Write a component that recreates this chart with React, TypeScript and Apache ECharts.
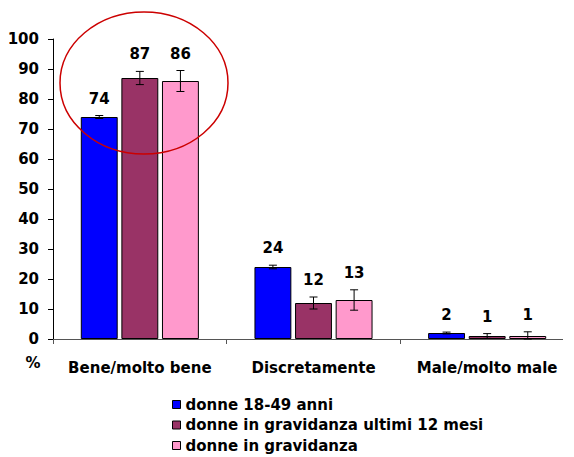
import React, { useEffect, useRef } from "react";
import * as echarts from "echarts";

const categories = ["Bene/molto bene", "Discretamente", "Male/molto male"];
const seriesNames = [
  "donne 18-49 anni",
  "donne in gravidanza ultimi 12 mesi",
  "donne in gravidanza",
];
const seriesColors = ["#0000FF", "#993366", "#FF99CC"];
const donne1849 = [74, 24, 2];
const gravUltimi12 = [87, 12, 1];
const gravidanza = [86, 13, 1];
const err1849 = [0.5, 0.6, 0.3];
const errUltimi12 = [2.2, 2.0, 0.8];
const errGravidanza = [3.5, 3.4, 1.4];
const yTicks = [0, 10, 20, 30, 40, 50, 60, 70, 80, 90, 100];

const FONT = "DejaVu Sans";

export default function App() {
  const ref = useRef<HTMLDivElement>(null);
  useEffect(() => {
    if (!ref.current) return;
    const chart = echarts.init(ref.current, null, { renderer: "svg" });
    const values = [donne1849, gravUltimi12, gravidanza];
    const errs = [err1849, errUltimi12, errGravidanza];
    const errData: number[][] = [];
    values.forEach((vals, s) => {
      vals.forEach((v, c) => {
        errData.push([c, s, v, errs[s][c]]);
      });
    });
    const barCatGap = 0.32;
    const barGap = 0.1;

    chart.setOption({
      animation: false,
      textStyle: { fontFamily: FONT, fontWeight: "bold", fontSize: 15, color: "#000" },
      grid: { left: 53, top: 39, width: 528, height: 300 },
      xAxis: {
        type: "category",
        data: categories,
        axisLine: { show: false },
        axisTick: { show: true, length: 5, lineStyle: { color: "#555" } },
        axisLabel: {
          interval: 0,
          margin: 21,
          fontFamily: FONT,
          fontWeight: "bold",
          fontSize: 15,
          color: "#000",
        },
      },
      yAxis: {
        type: "value",
        min: yTicks[0],
        max: yTicks[yTicks.length - 1],
        interval: 10,
        splitLine: { show: false },
        axisLine: { show: true, lineStyle: { color: "#000", width: 1 } },
        axisTick: { show: true, length: 5, lineStyle: { color: "#000" } },
        axisLabel: {
          margin: 14,
          fontFamily: FONT,
          fontWeight: "bold",
          fontSize: 15,
          color: "#000",
        },
      },
      legend: seriesNames.map((name, i) => ({
        orient: "horizontal",
        left: 172,
        top: 397 + i * 20.5,
        padding: 0,
        itemWidth: 8,
        itemHeight: 8,
        icon: "rect",
        data: [name],
        itemStyle: { borderColor: "#000", borderWidth: 1 },
        textStyle: { fontFamily: FONT, fontWeight: "bold", fontSize: 15, color: "#000" },
      })),
      series: [
        ...values.map((vals, s) => ({
          type: "bar",
          name: seriesNames[s],
          data: vals,
          barGap: `${barGap * 100}%`,
          barCategoryGap: `${barCatGap * 100}%`,
          itemStyle: { color: seriesColors[s], borderColor: "#000", borderWidth: 1 },
        })),
        {
          type: "custom",
          name: "err",
          data: errData,
          encode: { x: 0, y: 2 },
          z: 10,
          renderItem: (params: any, api: any) => {
            const c = api.value(0);
            const s = api.value(1);
            const v = api.value(2);
            const e = api.value(3);
            const catW = api.size([1, 0])[0];
            const bw = (catW * (1 - barCatGap)) / (3 + 2 * barGap);
            const cx = api.coord([c, 0])[0] + (s - 1) * bw * (1 + barGap);
            const yTop = api.coord([c, v + e])[1];
            const yBot = api.coord([c, Math.max(0, v - e)])[1];
            const cap = 4;
            const st = { stroke: "#000", lineWidth: 1 };
            return {
              type: "group",
              children: [
                { type: "line", shape: { x1: cx, y1: yTop, x2: cx, y2: yBot }, style: st },
                { type: "line", shape: { x1: cx - cap, y1: yTop, x2: cx + cap, y2: yTop }, style: st },
                { type: "line", shape: { x1: cx - cap, y1: yBot, x2: cx + cap, y2: yBot }, style: st },
                {
                  type: "text",
                  style: {
                    x: cx,
                    y: yTop - 17,
                    text: String(v),
                    align: "center",
                    verticalAlign: "middle",
                    fontFamily: FONT,
                    fontWeight: "bold",
                    fontSize: 15,
                    fill: "#000",
                  },
                },
              ],
            };
          },
        },
      ],
      graphic: [
        {
          type: "line",
          shape: { x1: 53, y1: 339.5, x2: 563, y2: 339.5 },
          style: { stroke: "#555", lineWidth: 1 },
        },
        {
          type: "text",
          x: 33,
          y: 363,
          style: {
            text: "%",
            align: "center",
            verticalAlign: "middle",
            fontFamily: FONT,
            fontWeight: "bold",
            fontSize: 15,
            fill: "#000",
          },
        },
        {
          type: "ellipse",
          shape: { cx: 144, cy: 83, rx: 84, ry: 71 },
          style: { fill: "none", stroke: "#CC0000", lineWidth: 1.5 },
          z: 20,
        },
      ],
    });
    return () => chart.dispose();
  }, []);
  return (
    <div
      ref={ref}
      style={{ position: "absolute", left: 0, top: 0, width: 574, height: 457 }}
    />
  );
}
